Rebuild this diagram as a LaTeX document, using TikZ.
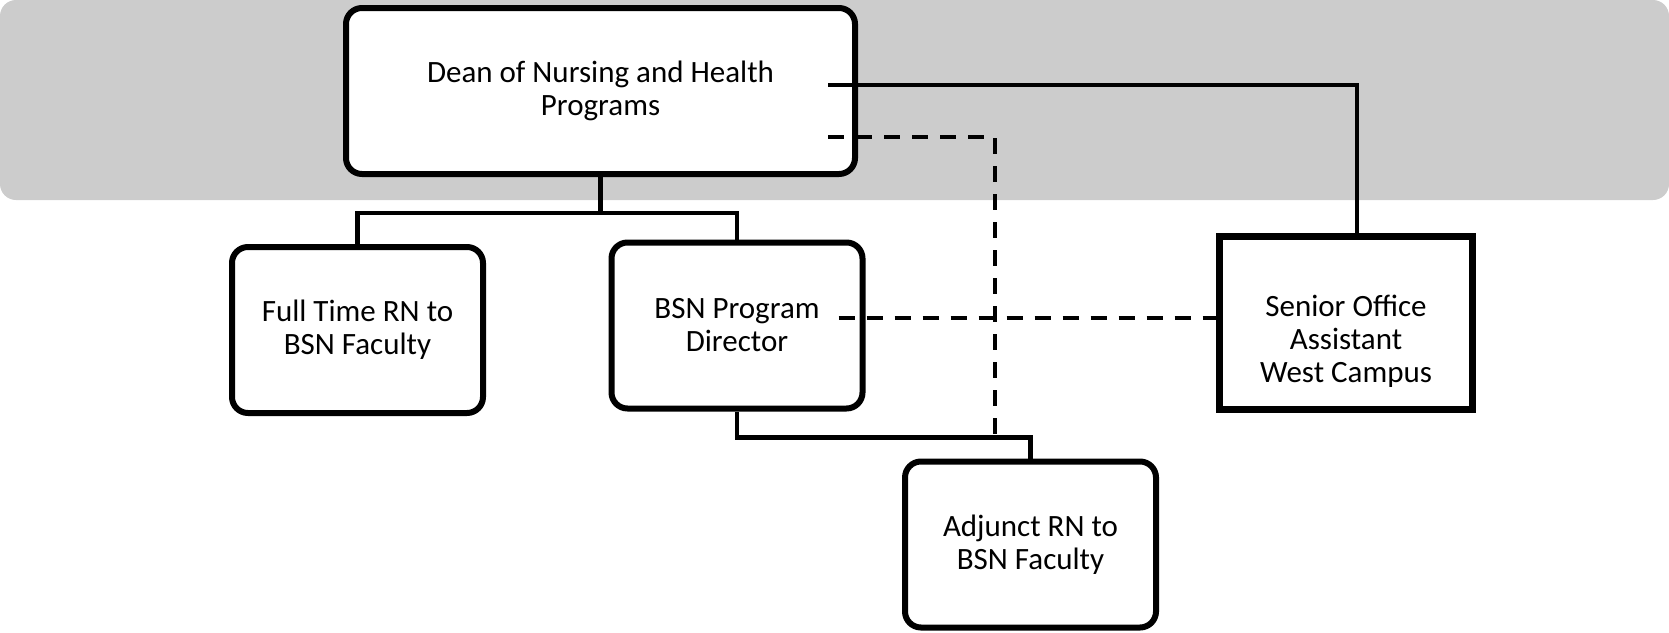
\documentclass[tikz,border=0pt]{standalone}
\usepackage{fontspec}
\setmainfont{Carlito}
\begin{document}
\begin{tikzpicture}[x=0.5pt,y=-0.5pt,
  every node/.style={font=\fontsize{15.5}{16.5}\selectfont, align=center, inner sep=0pt},
  rbox/.style={draw=black, fill=white, line width=3pt, rounded corners=8pt,
    minimum width=125.5pt, minimum height=83pt},
  sqbox/.style={draw=black, fill=white, line width=3.5pt,
    minimum width=126.5pt, minimum height=86.5pt},
  conn/.style={draw=black, line width=2.4pt},
  thinconn/.style={draw=black, line width=2pt},
  dashconn/.style={draw=black, line width=2.4pt, dash pattern=on 8pt off 6pt}]
\useasboundingbox (0,0) rectangle (1669,632);
\fill[fill={rgb,255:red,204;green,204;blue,204}, rounded corners=8pt] (0,0) rectangle (1669,200);

\node[rbox, minimum width=254.5pt] (dean) at (600.5,91) {Dean of Nursing and Health\\Programs};
\node[rbox] (ft) at (357.5,330) {Full Time RN to\\BSN Faculty};
\node[rbox] (bsn) at (737,325.5) {BSN Program\\Director};
\node[rbox] (adj) at (1030.5,544.5) {Adjunct RN to\\BSN Faculty};
\node[sqbox, label={[yshift=-9pt]center:Senior Office\\Assistant\\West Campus}] (senior) at (1346,323) {};

\coordinate (dv) at (995,435);

% hierarchy
\draw[conn] (dean.south) -- ++(0,36) coordinate (j1);
\draw[conn] (ft.north) |- (j1) -| (bsn.north);
\draw[conn] (bsn.south) -- ++(0,26) -| (adj.north);
% dean to senior
\draw[thinconn] ([xshift=-15pt,yshift=3pt]dean.east) -| ([xshift=5.5pt]senior.north);
% dotted reports
\draw[dashconn] ([xshift=-15pt,yshift=-23pt]dean.east) -| (dv);
\draw[dashconn] ([xshift=-13.5pt,yshift=3.75pt]bsn.east) coordinate (d2) -- (d2 -| senior.west);
\end{tikzpicture}
\end{document}
